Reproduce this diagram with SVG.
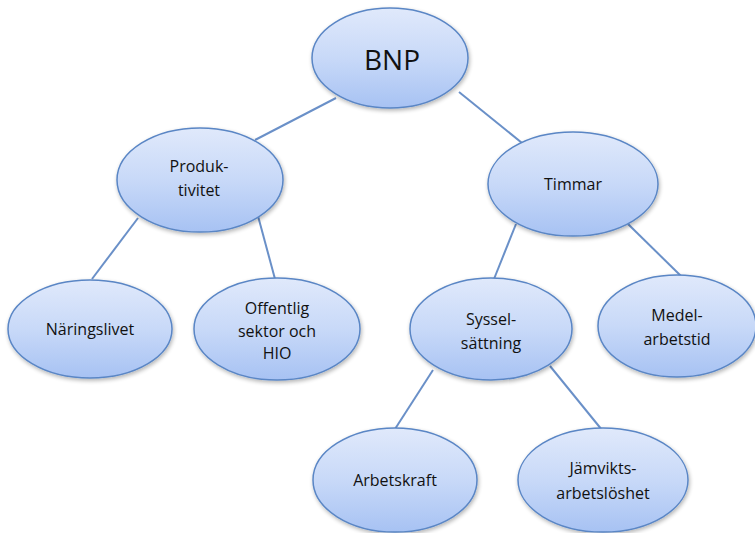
<svg xmlns="http://www.w3.org/2000/svg" width="755" height="533" viewBox="0 0 755 533">
<defs>
<linearGradient id="g" x1="0" y1="0" x2="0" y2="1">
<stop offset="0" stop-color="#e0e9fb"/>
<stop offset="0.5" stop-color="#c8d9f8"/>
<stop offset="1" stop-color="#a7c2f3"/>
</linearGradient>
<filter id="sh" x="-10%" y="-10%" width="125%" height="130%">
<feGaussianBlur in="SourceAlpha" stdDeviation="2"/>
<feOffset dx="1" dy="2"/>
<feComponentTransfer><feFuncA type="linear" slope="0.3"/></feComponentTransfer>
<feMerge><feMergeNode/><feMergeNode in="SourceGraphic"/></feMerge>
</filter>
</defs>
<style>
.n ellipse{fill:url(#g);stroke:#5a86c5;stroke-width:1.5;filter:url(#sh)}
.n text{font-family:"Open Sans","Liberation Sans",sans-serif;font-size:16px;fill:#111;text-anchor:middle}
.c line{stroke:#6a90c8;stroke-width:2}
</style>
<rect width="755" height="533" fill="#fff"/>
<g class="c">
<line x1="336" y1="98" x2="255" y2="140"/>
<line x1="459" y1="92" x2="527" y2="147"/>
<line x1="138" y1="218" x2="92" y2="279"/>
<line x1="258" y1="216" x2="275" y2="279"/>
<line x1="516" y1="224" x2="494" y2="279"/>
<line x1="628" y1="224" x2="681" y2="276"/>
<line x1="433" y1="370" x2="395" y2="429"/>
<line x1="550" y1="366" x2="602" y2="430"/>
</g>
<g id="bnp" class="n"><ellipse cx="390" cy="58" rx="78" ry="50"/><text x="392" y="70" style="font-size:28px">BNP</text></g>
<g id="produktivitet" class="n"><ellipse cx="200" cy="180" rx="83" ry="52"/><text x="199" y="172">Produk-</text><text x="199" y="196">tivitet</text></g>
<g id="timmar" class="n"><ellipse cx="573" cy="184" rx="85" ry="52"/><text x="573" y="190">Timmar</text></g>
<g id="naringslivet" class="n"><ellipse cx="90" cy="329" rx="82" ry="49"/><text x="90" y="335">Näringslivet</text></g>
<g id="offentlig" class="n"><ellipse cx="277" cy="329" rx="83" ry="51"/><text x="277" y="314">Offentlig</text><text x="277" y="337">sektor och</text><text x="277" y="359">HIO</text></g>
<g id="sysselsattning" class="n"><ellipse cx="491" cy="329" rx="81" ry="51"/><text x="491" y="325">Syssel-</text><text x="491" y="349">sättning</text></g>
<g id="medelarbetstid" class="n"><ellipse cx="677" cy="326" rx="79" ry="51"/><text x="677" y="321">Medel-</text><text x="677" y="345">arbetstid</text></g>
<g id="arbetskraft" class="n"><ellipse cx="395" cy="480" rx="82" ry="52"/><text x="395" y="486">Arbetskraft</text></g>
<g id="jamvikt" class="n"><ellipse cx="603" cy="480" rx="85" ry="52"/><text x="603" y="474">Jämvikts-</text><text x="603" y="499">arbetslöshet</text></g>
</svg>
